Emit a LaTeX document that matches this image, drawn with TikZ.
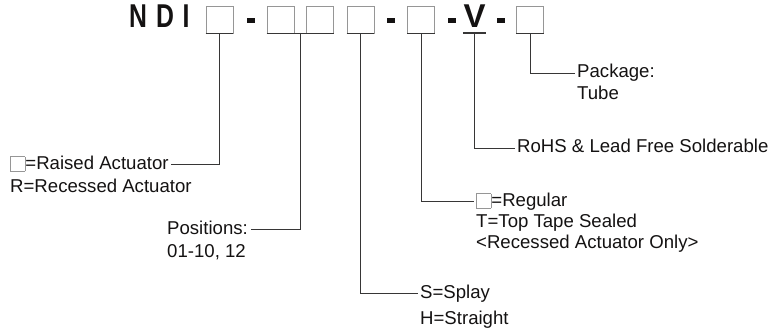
\documentclass[tikz,border=0pt]{standalone}
\usepackage{fontspec}
\setmainfont{Liberation Sans}
\usepackage{xcolor}
\usetikzlibrary{positioning}
\definecolor{ink}{RGB}{20,18,18}
\definecolor{boxgray}{RGB}{150,150,150}
\newcommand{\blankopt}{\raisebox{-2pt}{\setlength{\fboxsep}{0pt}\setlength{\fboxrule}{0.6pt}\fcolorbox{boxgray}{white}{\rule{0pt}{14pt}\hspace{14pt}}}}

\begin{document}
\begin{tikzpicture}[x=1pt, y=-1pt,
    codebox/.style={draw=boxgray, line width=0.8pt, minimum size=27pt, inner sep=0pt},
    big/.style={font=\fontsize{33}{36}\selectfont\bfseries, inner sep=0pt, text=ink, anchor=base},
    hyph/.style={inner sep=0pt, text=ink},
    lbl/.style={anchor=west, inner sep=2.5pt, text height=13pt, text depth=3pt, font=\fontsize{18.6}{22}\selectfont, text=ink},
    lead/.style={draw=ink!85, line width=0.8pt},
    edge/.style={draw=ink!85, line width=1.4pt}]
    \useasboundingbox (0,0) rectangle (768,334);

    % part number
    \node[big] (ltrN) at (138,28) {\scalebox{0.75}[1]{N}};
    \node[big] (ltrD) at (165,28) {\scalebox{0.75}[1]{D}};
    \node[big] (ltrI) at (186,28) {\scalebox{0.75}[1]{I}};
    \node[codebox] (box1) at (219.5,19.5) {};
    \node[hyph] (dash1) at (251,20.5) {\rule{8pt}{5pt}};
    \node[codebox] (box2) at (280.5,19.5) {};
    \node[codebox] (box3) at (320,19.5) {};
    \node[codebox] (box4) at (360.5,19.5) {};
    \node[hyph] (dash2) at (391,20.5) {\rule{8pt}{5pt}};
    \node[codebox] (box5) at (421,19.5) {};
    \node[hyph] (dash3) at (452,20.5) {\rule{8pt}{5pt}};
    \node[big, anchor=south, minimum width=23pt, text depth=5pt] (vchar) at (474.5,33) {V};
    \node[hyph] (dash4) at (501,20.5) {\rule{8pt}{5pt}};
    \node[codebox] (box6) at (530,19.5) {};

    \foreach \b in {box1,box2,box3,box4,box5,box6}
        \draw[edge] (\b.south west) -- (\b.south east);
    \draw[edge] (box2.south east) -- (box3.south west);
    \draw[edge] (vchar.south west) -- (vchar.south east);
    \coordinate (jn) at (300,33);

    % labels
    \node[lbl] (raised) at (7.5,164) {\blankopt=Raised Actuator};
    \node[lbl] (recessed) at (7.5,187) {R=Recessed Actuator};
    \node[lbl] (positions) at (164.5,229) {Positions:};
    \node[lbl] (range) at (164.5,252) {01-10, 12};
    \node[lbl] (splay) at (417.5,293) {S=Splay};
    \node[lbl] (straight) at (417.5,319) {H=Straight};
    \node[lbl] (regular) at (473.5,201) {\blankopt=Regular};
    \node[lbl] (tape) at (473.5,222) {T=Top Tape Sealed};
    \node[lbl] (only) at (473.5,243) {<Recessed Actuator Only>};
    \node[lbl] (rohs) at (514.5,148) {RoHS \& Lead Free Solderable};
    \node[lbl] (pkg) at (574.5,73) {Package:};
    \node[lbl] (tube) at (574.5,95) {Tube};

    % leaders
    \draw[lead] (box1.south) |- (raised.east);
    \draw[lead] (jn) |- (positions.east);
    \draw[lead] (box4.south) |- (splay.west);
    \draw[lead] (box5.south) |- (regular.west);
    \draw[lead] (vchar.south) |- (rohs.west);
    \draw[lead] (box6.south) |- (pkg.west);
\end{tikzpicture}
\end{document}
